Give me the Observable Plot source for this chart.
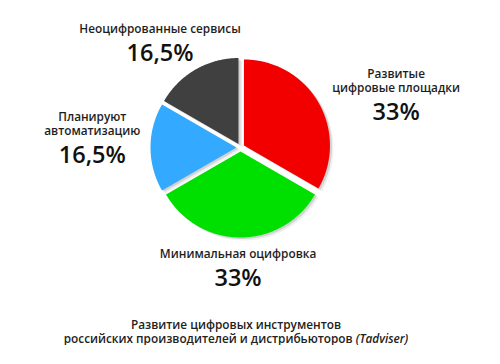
<!DOCTYPE html>
<html><head><meta charset="utf-8">
<script src="https://cdn.jsdelivr.net/npm/d3@7"></script>
<script src="https://cdn.jsdelivr.net/npm/@observablehq/plot@0.6"></script>
<style>
html,body{margin:0;padding:0;background:#fff;}
figure{margin:0;}
figcaption{font-family:"Open Sans",sans-serif;font-size:11.8px;font-weight:600;color:#222;line-height:14px;text-align:center;width:472px;padding-top:9px;}
figcaption i{font-weight:600;}
</style></head><body><div id="chart"></div>
<script>
// ---- data ----
const categories = ["Развитые\nцифровые площадки", "Минимальная оцифровка", "Планируют\nавтоматизацию", "Неоцифрованные сервисы"];
const shares = [33, 33, 16.5, 16.5];
const shareLabels = ["33%", "33%", "16,5%", "16,5%"];
const colors = ["#f20000", "#00e000", "#33aaff", "#404040"];
const captionText = ["Развитие цифровых инструментов", "российских производителей и дистрибьюторов", "(Tadviser)"];

// ---- layout ----
const W = 500, H = 308, CX = 240, CY = 147, R = 86, EXPLODE = 4;
// label placement: distance from centre and angular nudge (deg) from slice bisector
const labelPolar = [[158, 20], [139, 1], [149, -6], [118, -13]];

const arcs = d3.pie().sort(null).value(d => d)(shares);
const pts = [];
const labels = [];
arcs.forEach((a, i) => {
  const mid = (a.startAngle + a.endAngle) / 2;
  const ox = EXPLODE * Math.sin(mid), oy = -EXPLODE * Math.cos(mid);
  pts.push({i, x: ox, y: oy});
  const n = Math.ceil((a.endAngle - a.startAngle) / (Math.PI / 360));
  for (let k = 0; k <= n; k++) {
    const t = a.startAngle + (a.endAngle - a.startAngle) * k / n;
    pts.push({i, x: ox + R * Math.sin(t), y: oy - R * Math.cos(t)});
  }
  const [lr, nudge] = labelPolar[i];
  const la = mid + nudge * Math.PI / 180;
  labels.push({name: categories[i], pct: shareLabels[i], x: lr * Math.sin(la), y: -lr * Math.cos(la)});
});

const cap = document.createElement("div");
cap.innerHTML = `${captionText[0]}<br>${captionText[1]} <i>${captionText[2]}</i>`;

const chart = Plot.plot({
  width: W, height: H,
  margin: 0,
  x: {domain: [-CX, W - CX], range: [0, W], axis: null},
  y: {domain: [-CY, H - CY], range: [0, H], axis: null},
  color: {type: "identity"},
  style: {fontFamily: "'Open Sans', sans-serif", background: "#fff"},
  caption: cap,
  marks: [
    Plot.line(pts, {x: "x", y: "y", z: "i", fill: "#000", fillOpacity: 0.06, stroke: "none", dx: 3.5, dy: 3}),
    Plot.line(pts, {x: "x", y: "y", z: "i", fill: "#000", fillOpacity: 0.12, stroke: "none", dx: 2, dy: 1.5}),
    Plot.line(pts, {x: "x", y: "y", z: "i", fill: d => colors[d.i], stroke: "none"}),
    Plot.text(labels, {x: "x", y: "y", text: "name", lineAnchor: "bottom", dy: -28, fontSize: 11.8, fontWeight: 600, fill: "#1e1e1e", lineHeight: 14 / 11.8}),
    Plot.text(labels, {x: "x", y: "y", text: "pct", lineAnchor: "bottom", fontSize: 23.5, fontWeight: 600, fill: "#111"})
  ]
});
document.getElementById("chart").appendChild(chart);
</script>
</body></html>
